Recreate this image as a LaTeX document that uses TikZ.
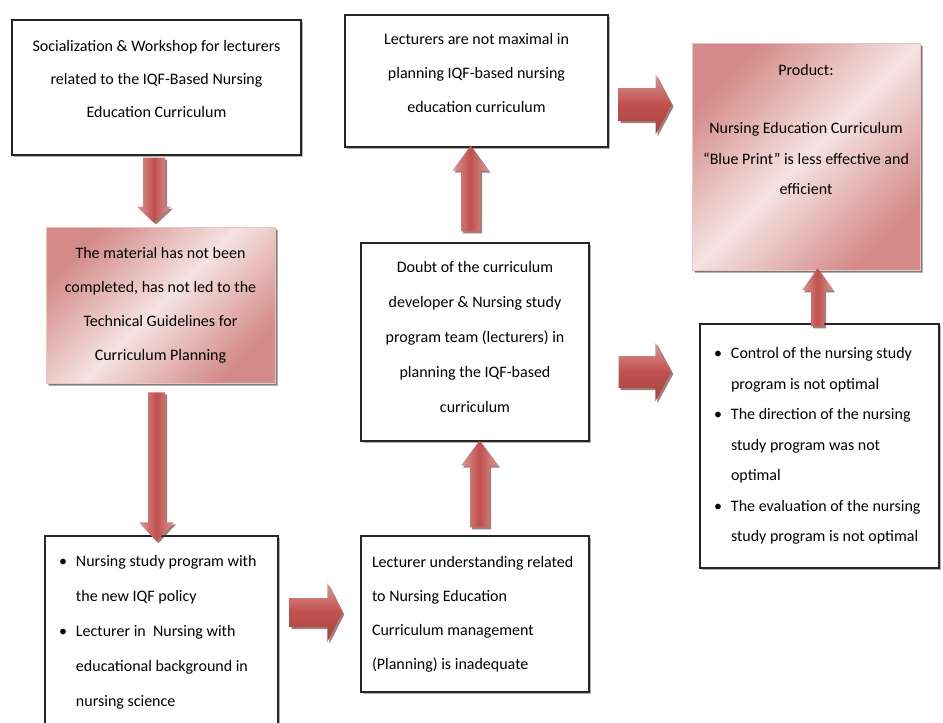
\documentclass[tikz,border=0pt]{standalone}
\usepackage{fontspec}
\setmainfont{Carlito}
\usepackage{tikz}
\usetikzlibrary{calc, shadows, shapes}

\definecolor{arrowred}{HTML}{C0504D}
\definecolor{arrowpale}{HTML}{DA9896}
\definecolor{pinkpale}{HTML}{F5E3E2}
\definecolor{pinkdeep}{HTML}{D38A88}

\newcommand{\bitem}{\makebox[8.5pt][l]{\textbullet}}
\newcommand{\bcont}{\hspace*{8.5pt}}
\newcommand{\lift}[1]{\rule[-#1]{0pt}{0pt}}

\begin{document}
\begin{tikzpicture}[x=0.5pt, y=-0.5pt,
  box/.style={draw=black!85, line width=0.7pt, fill=white, inner sep=0pt, align=center,
              font=\fontsize{8pt}{17pt}\selectfont,
              drop shadow={shadow xshift=0.8pt, shadow yshift=-0.8pt, fill=black, opacity=0.3}},
  pinkbox/.style={box, draw=pinkdeep!50, line width=0.4pt, top color=pinkdeep, bottom color=pinkdeep,
              middle color=pinkpale, shading angle=45,
              drop shadow={shadow xshift=1.5pt, shadow yshift=-1.5pt, fill=black, opacity=0.3}},
  listbox/.style={box, align=flush left, inner xsep=7pt},
  blockarrow/.style n args={3}{to path={
    let \p1=(\tikztostart), \p2=(\tikztotarget),
        \n1={atan2(\y2-\y1,\x2-\x1)}, \n2={veclen(\x2-\x1,\y2-\y1)} in
    (\p1) ++({\n1+90}:#1) -- ++(\n1:{\n2-#3}) -- ++({\n1+90}:{#2-#1}) -- (\p2)
    -- ++($({\n1+180}:#3)+({\n1-90}:#2)$) -- ++({\n1+90}:{#2-#1}) -- ++({\n1+180}:{\n2-#3}) -- cycle}},
  vshade/.style={left color=arrowpale, right color=arrowpale, middle color=arrowred,
              drop shadow={shadow xshift=1pt, shadow yshift=-1pt, fill=arrowred!50!black, opacity=0.6}},
  hshade/.style={top color=arrowpale, bottom color=arrowred!85!black, middle color=arrowred,
              drop shadow={shadow xshift=1pt, shadow yshift=-1pt, fill=arrowred!50!black, opacity=0.6}},
]

\useasboundingbox (0,0) rectangle (943,723);
\clip (0,0) rectangle (943,723);

\node [box, minimum width=144.5pt, minimum height=67.5pt, font=\fontsize{8pt}{16.5pt}\selectfont] (0) at (156.5,87.5)
  {Socialization \& Workshop for lecturers\\ related to the IQF-Based Nursing\\ Education Curriculum\lift{9pt}};
\node [pinkbox, minimum width=114.5pt, minimum height=78pt] (1) at (160.5,305)
  {The material has not been\\ completed, has not led to the\\ Technical Guidelines for\\ Curriculum Planning};
\node [listbox, text width=102.5pt, minimum height=96.5pt, font=\fontsize{8pt}{17.5pt}\selectfont] (2) at (161.5,632.5)
  {\bitem Nursing study program with\\ \bcont the new IQF policy\\ \bitem Lecturer in~ Nursing with\\ \bcont educational background in\\ \bcont nursing science};
\node [box, align=flush left, inner xsep=5.5pt, text width=103pt, minimum height=78pt] (3) at (475,614)
  {Lecturer understanding related\\ to Nursing Education\\ Curriculum management\\ (Planning) is inadequate};
\node [box, minimum width=114pt, minimum height=99pt, font=\fontsize{8pt}{17.5pt}\selectfont] (4) at (475,342)
  {Doubt of the curriculum\\ developer \& Nursing study\\ program team (lecturers) in\\ planning the IQF-based\\ curriculum\lift{5pt}};
\node [box, minimum width=131.5pt, minimum height=66pt] (5) at (476.5,81)
  {Lecturers are not maximal in\\ planning IQF-based nursing\\ education curriculum\lift{8pt}};
\node [pinkbox, minimum width=114pt, minimum height=113.5pt, font=\fontsize{8pt}{15.25pt}\selectfont] (6) at (806,156.5)
  {Product:\\[13.75pt] Nursing Education Curriculum\\ ``Blue Print'' is less effective and\\ efficient\lift{27pt}};
\node [listbox, text width=105.5pt, minimum height=122pt, font=\fontsize{8pt}{15.25pt}\selectfont] (7) at (819.5,446)
  {\bitem Control of the nursing study\\ \bcont program is not optimal\\ \bitem The direction of the nursing\\ \bcont study program was not\\ \bcont optimal\\ \bitem The evaluation of the nursing\\ \bcont study program is not optimal};

\path [blockarrow={5.5pt}{8.5pt}{8pt}, vshade]     ($(0.south)+(-2.5,2)$) to ($(0.south |- 1.north)+(-2.5,-4)$);
\path [blockarrow={4.25pt}{8.75pt}{9.5pt}, vshade] ($(1.south)+(-4,9)$) to ($(1.south |- 2.north)+(-4,6)$);
\path [blockarrow={7.25pt}{14.75pt}{7.5pt}, hshade] ($(2.east)+(11,-20)$) to ($(3.west |- 2.east)+(-18,-20)$);
\path [blockarrow={4.75pt}{9.25pt}{12.5pt}, vshade] ($(3.north)+(4.5,-8)$) to ($(3.north |- 4.south)+(4.5,-1)$);
\path [blockarrow={4.75pt}{9pt}{12.5pt}, vshade]   ($(4.north)+(-4.5,-11)$) to ($(4.north |- 5.south)+(-4.5,-2)$);
\path [blockarrow={8.25pt}{15pt}{8pt}, hshade]     ($(5.east)+(10,23.5)$) to ($(6.west |- 5.east)+(-20,23.5)$);
\path [blockarrow={8pt}{14.75pt}{8pt}, hshade]     ($(4.east)+(29,30)$) to ($(7.west |- 4.east)+(-28,30)$);
\path [blockarrow={3.25pt}{7.75pt}{11pt}, vshade]  ($(7.north)+(-2,3)$) to ($(7.north |- 6.south)+(-2,-2)$);

\end{tikzpicture}
\end{document}
